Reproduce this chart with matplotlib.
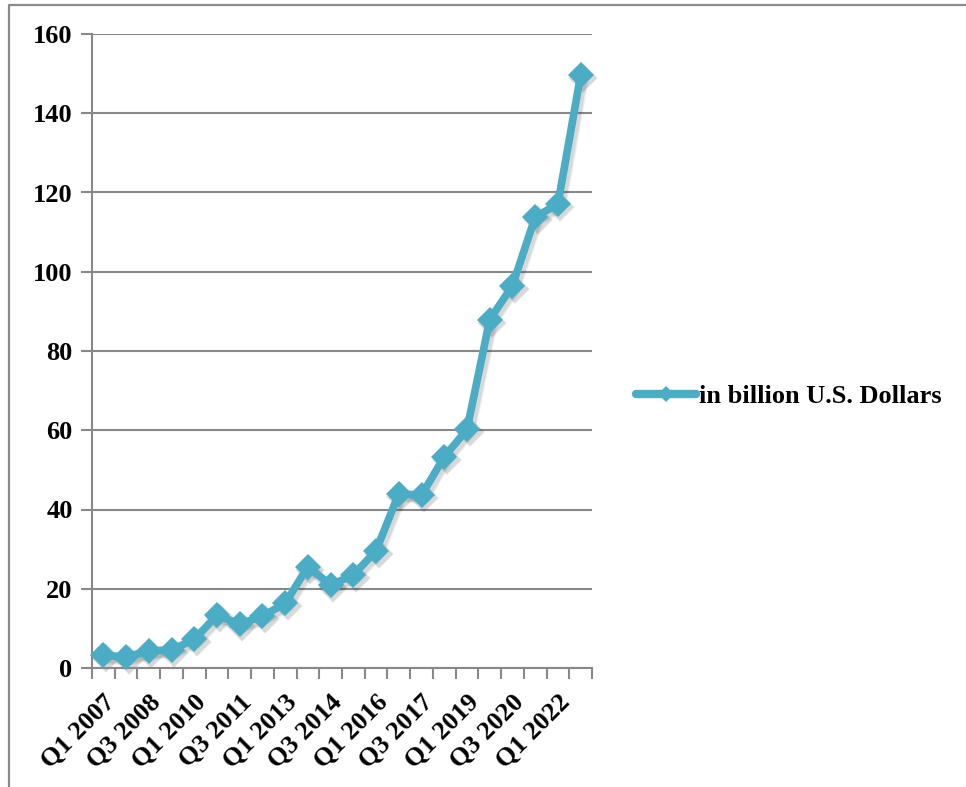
import matplotlib
matplotlib.use("Agg")
import matplotlib.pyplot as plt
import matplotlib.transforms as mtransforms
from matplotlib.lines import Line2D

# Quarterly series, one point every three quarters
quarters = [
    "Q1 2007", "Q4 2007", "Q3 2008", "Q2 2009", "Q1 2010", "Q4 2010",
    "Q3 2011", "Q2 2012", "Q1 2013", "Q4 2013", "Q3 2014", "Q2 2015",
    "Q1 2016", "Q4 2016", "Q3 2017", "Q2 2018", "Q1 2019", "Q4 2019",
    "Q3 2020", "Q2 2021", "Q1 2022", "Q4 2022",
]
values = [
    3.2, 2.8, 4.3, 4.6, 7.2, 13.3, 11.1, 13.1, 16.3, 25.6, 20.9,
    23.5, 29.6, 44.0, 43.6, 53.3, 60.2, 87.9, 96.5, 113.8, 117.1, 149.6,
]
series_name = "in billion U.S. Dollars"
y_ticks = [0, 20, 40, 60, 80, 100, 120, 140, 160]

LINE = "#4BACC6"
GRID = "#888888"
FONT = "Liberation Serif"

fig = plt.figure(figsize=(9.66, 7.87), dpi=100)
fig.patch.set_facecolor("white")

# outer chart frame (top and left edges visible)
frame = Line2D([9 / 966, 9 / 966, 1.0], [0.0, 1 - 5 / 787, 1 - 5 / 787],
               transform=fig.transFigure, color="#8a8a8a", lw=1.6)
fig.add_artist(frame)

ax = fig.add_axes([92 / 966, 119 / 787, 500 / 966, 634 / 787])
x = list(range(len(quarters)))

# soft drop shadow under the series
shadow_tr = mtransforms.offset_copy(ax.transData, fig=fig, x=2.5, y=-3, units="dots")
for lw, ms, a in [(8.5, 15.5, 0.08), (6.5, 14, 0.12)]:
    ax.plot(x, values, color="#333333", alpha=a, lw=lw, marker="D", markersize=ms,
            markeredgewidth=0, solid_joinstyle="round", transform=shadow_tr,
            zorder=2, clip_on=False)

ax.plot(x, values, color=LINE, lw=5.5, marker="D", markersize=13.5,
        markeredgewidth=0, markerfacecolor=LINE, solid_joinstyle="round",
        solid_capstyle="round", zorder=3, clip_on=False)

ax.set_xlim(-0.5, len(quarters) - 0.5)
ax.set_ylim(0, 160)
ax.set_yticks(y_ticks)
ax.set_yticklabels([str(v) for v in y_ticks], fontfamily=FONT, fontweight="bold", fontsize=19)
ax.yaxis.grid(True, color=GRID, lw=1.5)
ax.set_axisbelow(True)

# category boundaries carry the tick marks; labels on every other category
ax.set_xticks([i - 0.5 for i in range(len(quarters) + 1)])
ax.set_xticklabels([])
ax.set_xticks(x[::2], minor=True)
ax.set_xticklabels(quarters[::2], minor=True, rotation=45, ha="right", va="top",
                   rotation_mode="anchor", fontfamily=FONT, fontweight="bold", fontsize=19)
ax.tick_params(axis="x", which="minor", length=0, pad=16)
ax.tick_params(axis="x", which="major", length=8, width=1.5, color=GRID)
ax.tick_params(axis="y", length=8, width=1.5, color=GRID, pad=6)

for s in ["top", "right"]:
    ax.spines[s].set_visible(False)
for s in ["left", "bottom"]:
    ax.spines[s].set_color(GRID)
    ax.spines[s].set_linewidth(1.5)

handle = Line2D([], [], color=LINE, lw=6, marker="D", markersize=8,
                markeredgewidth=0, solid_capstyle="round")
leg = fig.legend([handle], [series_name], loc="center left",
                 bbox_to_anchor=(612 / 966, 1 - 396 / 787), frameon=False,
                 handlelength=2.3, handletextpad=0.1,
                 prop={"family": FONT, "weight": "bold", "size": 19})

fig.savefig("out.png", dpi=100, facecolor="white")
